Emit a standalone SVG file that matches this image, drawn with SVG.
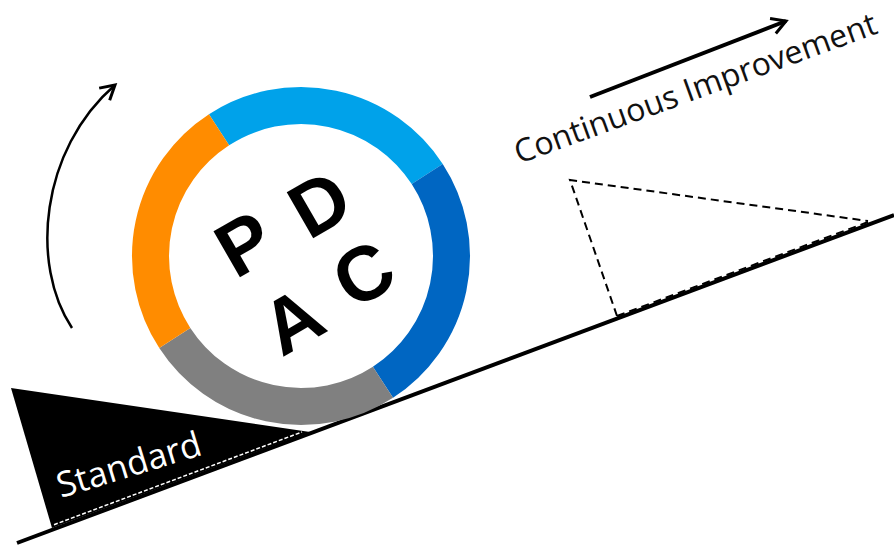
<svg xmlns="http://www.w3.org/2000/svg" width="894" height="545" viewBox="0 0 894 545">
  <style>
    .ring { fill: none; stroke-width: 37; stroke-linecap: butt; }
    .letter { font-family: "Liberation Sans", Arial, sans-serif; font-weight: bold; font-size: 77px; fill: #000; text-anchor: middle; }
    .label { font-family: "Open Sans", "Noto Sans", sans-serif; }
    .dash { fill: none; stroke: #000; stroke-width: 2; stroke-dasharray: 8 5; }
  </style>
  <defs>
    <marker id="chev" viewBox="0 0 20 20" refX="17" refY="10" markerWidth="20" markerHeight="20" markerUnits="userSpaceOnUse" orient="auto">
      <path d="M3,2 L17,10 L3,18" fill="none" stroke="#000" stroke-width="3" stroke-linejoin="miter"/>
    </marker>
  </defs>
  <rect width="894" height="545" fill="#fff"/>

  <g id="standard">
    <polygon points="11,388 310,432 52,528" fill="#000"/>
    <line x1="54" y1="524.7" x2="302" y2="432" stroke="#fff" stroke-width="1.5" stroke-dasharray="4 2"/>
    <text class="label" x="0" y="0" font-size="35" fill="#fff" transform="translate(61,498) rotate(-17)">Standard</text>
  </g>

  <g id="slope">
    <line x1="17" y1="543" x2="894" y2="215" stroke="#000" stroke-width="4"/>
  </g>

  <g id="pdca">
    <path class="ring" stroke="#00A2EA" d="M219.04,129.78 A150.5,150.5 0 0 1 427.22,174.04"/>
    <path class="ring" stroke="#0066C2" d="M427.22,174.04 A150.5,150.5 0 0 1 382.96,382.22"/>
    <path class="ring" stroke="#808080" d="M382.96,382.22 A150.5,150.5 0 0 1 174.78,337.96"/>
    <path class="ring" stroke="#FF8C00" d="M174.78,337.96 A150.5,150.5 0 0 1 219.04,129.78"/>
    <text class="letter" transform="translate(244,243) rotate(-30)" y="27.5">P</text>
    <text class="letter" transform="translate(319,203) rotate(-30)" y="27.5">D</text>
    <text class="letter" transform="translate(363,273) rotate(-30)" y="27.5">C</text>
    <text class="letter" transform="translate(292,320) rotate(-30)" y="27.5">A</text>
  </g>

  <g id="improvement">
    <text class="label" x="0" y="0" font-size="32" fill="#111" transform="translate(519,164) rotate(-20)">Continuous Improvement</text>
    <path class="dash" d="M617,316 L570,180 L868,221"/>
    <path class="dash" d="M617,316 L868,222"/>
  </g>

  <g id="connectors">
    <path d="M590,97 L786,21" fill="none" stroke="#000" stroke-width="4" marker-end="url(#chev)"/>
    <path d="M72,328 C30,265 40,150 115,85" fill="none" stroke="#000" stroke-width="2.5" marker-end="url(#chev)"/>
  </g>
</svg>
